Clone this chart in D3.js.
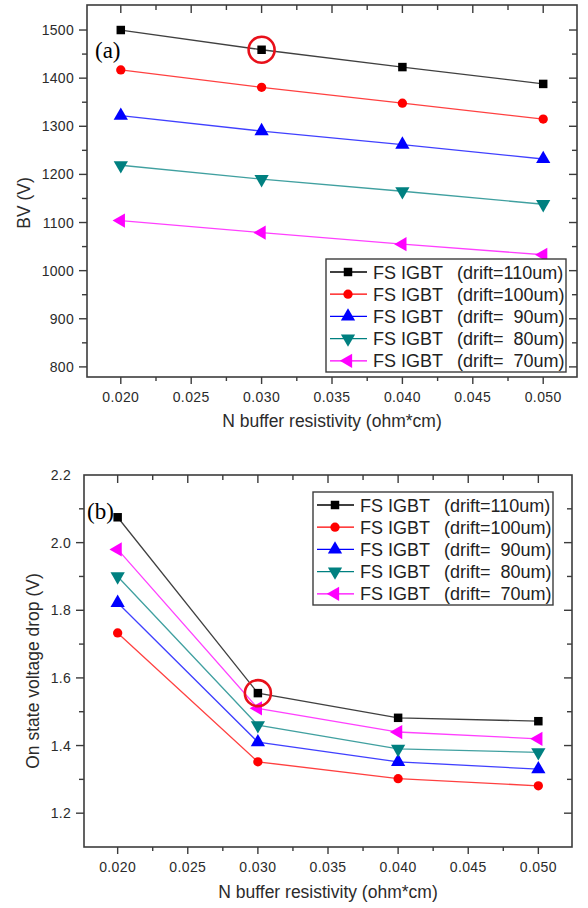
<!DOCTYPE html>
<html>
<head>
<meta charset="utf-8">
<script src="https://cdn.jsdelivr.net/npm/d3@7"></script>
<style>
  body { margin: 0; background: #fff; }
  svg { display: block; font-family: "Liberation Sans", Arial, sans-serif; }
</style>
</head>
<body>
<div id="chart"></div>
<script>
// x values (N buffer resistivity, ohm*cm)
const resistivity = [0.020, 0.030, 0.040, 0.050];
const seriesNames = ["FS IGBT", "FS IGBT", "FS IGBT", "FS IGBT", "FS IGBT"];
const driftLabels = ["(drift=110um)", "(drift=100um)", "(drift=  90um)", "(drift=  80um)", "(drift=  70um)"];
const seriesColors = ["#000000", "#ff0000", "#0000ff", "#008080", "#ff00ff"];
const seriesSymbols = ["square", "circle", "triangleUp", "triangleDown", "triangleLeft"];

// panel (a): breakdown voltage
const bv110 = [1500, 1459, 1423, 1388];
const bv100 = [1417, 1381, 1348, 1315];
const bv90 = [1322, 1290, 1262, 1232];
const bv80 = [1219, 1190, 1165, 1138];
const bv70 = [1104, 1079, 1055, 1033];
const bvTicks = [800, 900, 1000, 1100, 1200, 1300, 1400, 1500];

// panel (b): on state voltage drop
const von110 = [2.075, 1.555, 1.482, 1.472];
const von100 = [1.733, 1.352, 1.302, 1.281];
const von90 = [1.822, 1.410, 1.352, 1.330];
const von80 = [1.900, 1.460, 1.390, 1.380];
const von70 = [1.980, 1.510, 1.440, 1.420];
const vonTicks = [1.2, 1.4, 1.6, 1.8, 2.0, 2.2];

const xTicks = [0.020, 0.025, 0.030, 0.035, 0.040, 0.045, 0.050];

const AXIS_COLOR = "#3c3c3c";
const TEXT_COLOR = "#2b2b2b";

const svg = d3.select("#chart").append("svg")
    .attr("width", 588)
    .attr("height", 908);

function symbolPath(name) {
    if (name === "square") return {p: d3.symbol(d3.symbolSquare, 72)(), rot: 0};
    if (name === "circle") return {p: d3.symbol(d3.symbolCircle, 68)(), rot: 0};
    if (name === "triangleUp") return {p: d3.symbol(d3.symbolTriangle, 88)(), rot: 0};
    if (name === "triangleDown") return {p: d3.symbol(d3.symbolTriangle, 88)(), rot: 180};
    return {p: d3.symbol(d3.symbolTriangle, 88)(), rot: -90};
}

function drawPanel(cfg) {
    const g = svg.append("g");
    const x = d3.scaleLinear().domain([0.0176, 0.0524]).range([cfg.left, cfg.right]);
    const y = d3.scaleLinear().domain(cfg.yDomain).range([cfg.bottom, cfg.top]);

    // frame
    g.append("rect")
        .attr("x", cfg.left).attr("y", cfg.top)
        .attr("width", cfg.right - cfg.left).attr("height", cfg.bottom - cfg.top)
        .attr("fill", "none").attr("stroke", AXIS_COLOR).attr("stroke-width", 1.6);

    // x ticks every 0.0025, majors every 0.005
    const allX = d3.range(0.0175, 0.0526, 0.0025).filter(v => x(v) > cfg.left + 1 && x(v) < cfg.right - 1);
    allX.forEach(v => {
        const major = Math.round(v / 0.0025) % 2 === 0;
        const len = major ? 7 : 4;
        g.append("line").attr("x1", x(v)).attr("x2", x(v))
            .attr("y1", cfg.bottom).attr("y2", cfg.bottom + len)
            .attr("stroke", AXIS_COLOR).attr("stroke-width", 1.4);
        g.append("line").attr("x1", x(v)).attr("x2", x(v))
            .attr("y1", cfg.top).attr("y2", cfg.top + len + 1)
            .attr("stroke", AXIS_COLOR).attr("stroke-width", 1.4);
    });

    g.selectAll(".xlab").data(xTicks).enter().append("text")
        .attr("x", d => x(d))
        .attr("y", cfg.bottom + 25)
        .attr("text-anchor", "middle")
        .attr("fill", TEXT_COLOR)
        .style("font-size", "14px")
        .style("letter-spacing", "0.4px")
        .text(d => d3.format(".3f")(d));

    // y ticks: majors at labels, minors halfway
    const step = cfg.yTicks[1] - cfg.yTicks[0];
    const yAll = [];
    cfg.yTicks.forEach(v => { yAll.push([v, true]); yAll.push([v + step / 2, false]); yAll.push([v - step / 2, false]); });
    const seen = new Set();
    yAll.forEach(([v, major]) => {
        const key = v.toFixed(4);
        if (seen.has(key)) return;
        seen.add(key);
        const py = y(v);
        if (py < cfg.top + 1 || py > cfg.bottom - 1) return;
        const len = major ? 8 : 5;
        g.append("line").attr("x1", cfg.left - len).attr("x2", cfg.left)
            .attr("y1", py).attr("y2", py)
            .attr("stroke", AXIS_COLOR).attr("stroke-width", 1.4);
        g.append("line").attr("x1", cfg.right - len).attr("x2", cfg.right)
            .attr("y1", py).attr("y2", py)
            .attr("stroke", AXIS_COLOR).attr("stroke-width", 1.4);
    });

    g.selectAll(".ylab").data(cfg.yTicks).enter().append("text")
        .attr("x", cfg.left - 13)
        .attr("y", d => y(d) + 5)
        .attr("text-anchor", "end")
        .attr("fill", TEXT_COLOR)
        .style("font-size", "14px")
        .style("letter-spacing", "0.3px")
        .text(d => cfg.yFormat(d));

    // axis titles
    g.append("text")
        .attr("x", (cfg.left + cfg.right) / 2)
        .attr("y", cfg.xTitleY)
        .attr("text-anchor", "middle")
        .attr("fill", TEXT_COLOR)
        .style("font-size", "17.5px")
        .text("N buffer resistivity (ohm*cm)");

    g.append("text")
        .attr("transform", `translate(${cfg.yTitleX}, ${cfg.yTitleY}) rotate(-90)`)
        .attr("text-anchor", "middle")
        .attr("dy", "0.35em")
        .attr("fill", TEXT_COLOR)
        .style("font-size", "17.5px")
        .text(cfg.yTitle);

    // series
    const line = d3.line().x((d, i) => x(resistivity[i])).y(d => y(d));
    cfg.series.forEach((vals, s) => {
        g.append("path")
            .attr("d", line(vals))
            .attr("fill", "none")
            .attr("stroke", seriesColors[s])
            .attr("stroke-opacity", 0.75)
            .attr("stroke-width", 1.3);
    });
    cfg.series.forEach((vals, s) => {
        const sym = symbolPath(seriesSymbols[s]);
        g.selectAll(null).data(vals).enter().append("path")
            .attr("d", sym.p)
            .attr("transform", (d, i) => `translate(${x(resistivity[i])}, ${y(d)}) rotate(${sym.rot})`)
            .attr("fill", seriesColors[s]);
    });

    // highlight circle
    g.append("circle")
        .attr("cx", x(resistivity[1]))
        .attr("cy", y(cfg.series[0][1]))
        .attr("r", 13)
        .attr("fill", "none")
        .attr("stroke", "#e8101a")
        .attr("stroke-width", 2.6);

    // panel label
    g.append("text")
        .attr("x", cfg.left + cfg.labelDx)
        .attr("y", cfg.labelY)
        .style("font-family", "'Liberation Serif', 'Times New Roman', serif")
        .style("font-size", "23px")
        .attr("fill", "#000")
        .text(cfg.label);

    // legend
    const lg = g.append("g").attr("transform", `translate(${cfg.legX}, ${cfg.legY})`);
    lg.append("rect")
        .attr("width", 240).attr("height", 113)
        .attr("fill", "#fff")
        .attr("stroke", AXIS_COLOR).attr("stroke-width", 1.4);
    seriesNames.forEach((name, s) => {
        const ry = 13 + s * 22.2;
        lg.append("line").attr("x1", 4).attr("x2", 41).attr("y1", ry).attr("y2", ry)
            .attr("stroke", seriesColors[s]).attr("stroke-width", 1.3);
        const sym = symbolPath(seriesSymbols[s]);
        lg.append("path").attr("d", sym.p)
            .attr("transform", `translate(22, ${ry}) rotate(${sym.rot})`)
            .attr("fill", seriesColors[s]);
        lg.append("text").attr("x", 47).attr("y", ry + 6.5)
            .attr("fill", "#222")
            .style("font-size", "18px")
            .text(name);
        lg.append("text").attr("x", 131).attr("y", ry + 6.5)
            .attr("fill", "#222")
            .style("font-size", "18px")
            .style("white-space", "pre")
            .attr("xml:space", "preserve")
            .text(driftLabels[s]);
    });
}

drawPanel({
    left: 87, right: 577, top: 5, bottom: 377,
    yDomain: [779, 1552],
    yTicks: bvTicks,
    yFormat: d => d,
    series: [bv110, bv100, bv90, bv80, bv70],
    xTitleY: 427,
    yTitle: "BV (V)", yTitleX: 24, yTitleY: 203,
    label: "(a)", labelDx: 8, labelY: 58,
    legX: 326, legY: 259
});

drawPanel({
    left: 84, right: 572, top: 475, bottom: 847,
    yDomain: [1.1, 2.2],
    yTicks: vonTicks,
    yFormat: d3.format(".1f"),
    series: [von110, von100, von90, von80, von70],
    xTitleY: 898,
    yTitle: "On state voltage drop (V)", yTitleX: 33, yTitleY: 671,
    label: "(b)", labelDx: 3, labelY: 519,
    legX: 313, legY: 492
});
</script>
</body>
</html>
